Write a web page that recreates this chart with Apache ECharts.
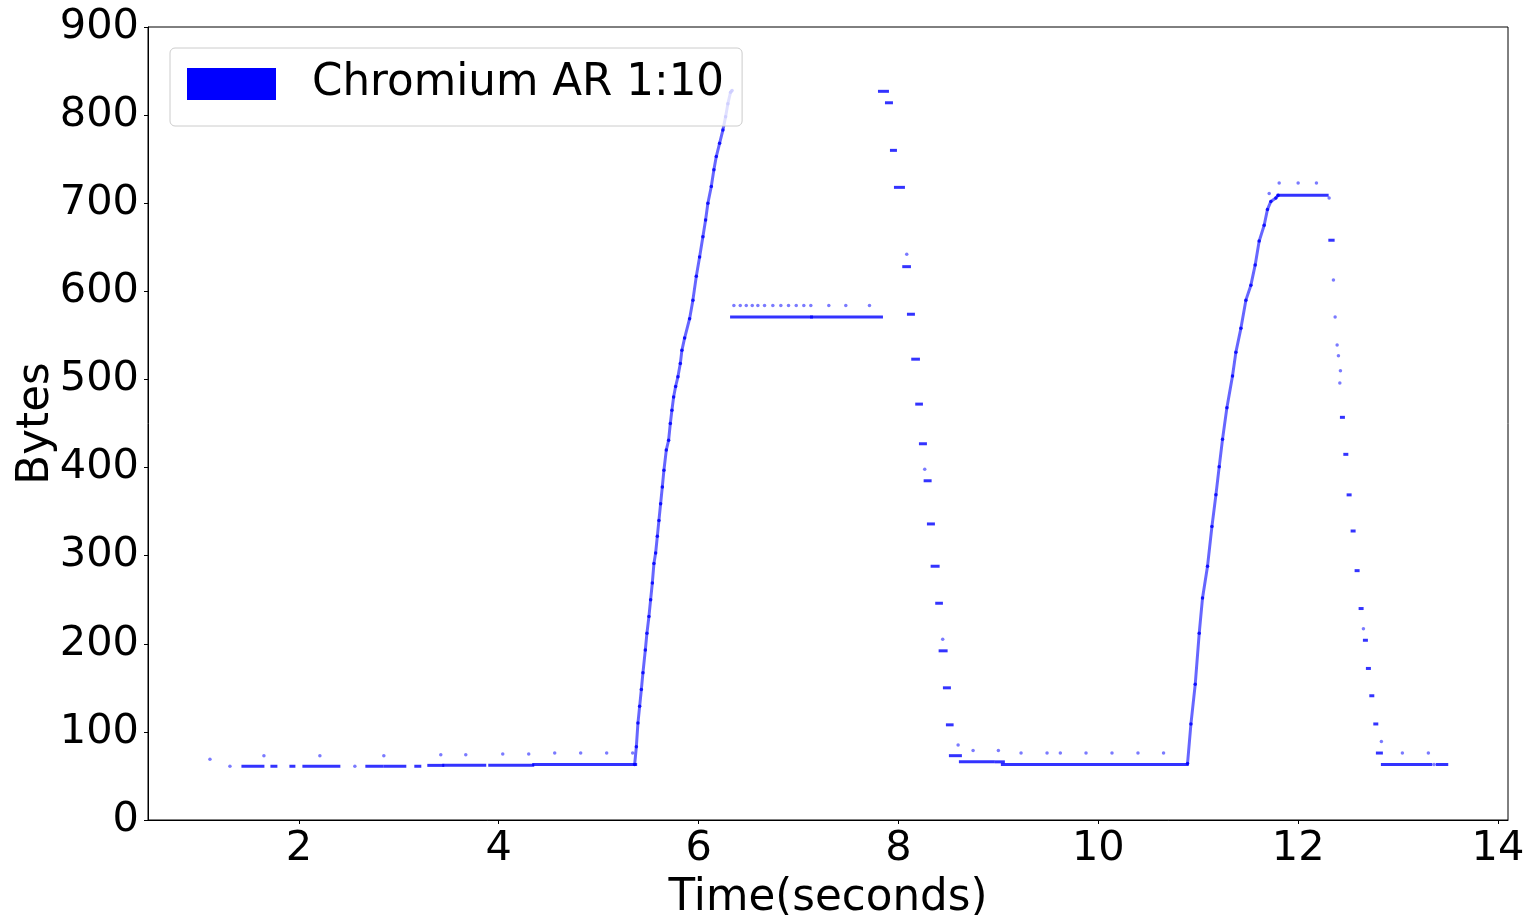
<!DOCTYPE html>
<html>
<head>
<meta charset="utf-8">
<script src="https://cdn.jsdelivr.net/npm/echarts@6/dist/echarts.min.js"></script>
<style>
  html, body { margin: 0; padding: 0; background: #fff; }
  #chart { width: 1529px; height: 915px; }
</style>
</head>
<body>
<div id="chart"></div>
<script>
// ---- Data (time in seconds, bytes) ----
const seriesName = 'Chromium AR 1:10';
const xTicks = [2, 4, 6, 8, 10, 12, 14];

// Steep rising phases (sampled points along the ramps)
const rampUp1 = [
  [5.36,63],[5.377,83],[5.393,110],[5.41,129],[5.427,148],[5.443,167],[5.467,193],[5.483,212],
  [5.503,231],[5.52,250],[5.537,269],[5.553,291],[5.57,303],[5.587,322],[5.603,340],[5.62,359],
  [5.637,378],[5.653,397],[5.677,420],[5.70,431],[5.717,450],[5.733,465],[5.75,480],[5.77,492],
  [5.793,503],[5.817,518],[5.833,533],[5.86,547],[5.91,569],[5.943,590],[5.977,617],[6.01,639],
  [6.043,662],[6.07,681],[6.093,700],[6.127,719],[6.153,738],[6.177,753],[6.21,768],[6.243,783],
  [6.27,798],[6.293,813],[6.32,826],[6.335,828]
];
const rampUp2 = [
  [10.893,64],[10.927,109],[10.97,154],[11.01,212],[11.043,252],[11.093,288],[11.137,333],
  [11.177,369],[11.21,401],[11.243,432],[11.287,468],[11.343,504],[11.377,531],[11.427,558],
  [11.477,590],[11.527,607],[11.57,630],[11.61,657],[11.66,675],[11.693,693],[11.727,702],
  [11.777,706],[11.80,709]
];

// Dense runs of packets at a constant size: [tStart, tEnd, bytes]
const runs = [
  [1.44,1.64,61],[1.73,1.77,61],[1.92,1.95,61],[2.05,2.40,61],[2.68,2.83,61],[2.86,3.06,61],
  [3.17,3.21,61],[3.30,3.44,62],[3.45,3.86,62],[3.91,4.34,62],[4.35,5.37,63],
  [6.33,7.13,571],[7.13,7.83,571],
  [7.81,7.89,827],[7.88,7.93,814],[7.93,7.97,760],[7.97,8.05,718],[8.053,8.11,628],
  [8.10,8.15,574],[8.143,8.20,523],[8.183,8.23,472],[8.22,8.27,427],[8.267,8.317,385],
  [8.30,8.35,336],[8.337,8.397,288],[8.383,8.43,246],[8.417,8.477,192],[8.46,8.51,150],
  [8.49,8.537,108],[8.52,8.62,73],[8.62,8.95,66],[8.98,9.05,66],[9.04,10.89,63],
  [11.80,12.29,709],
  [12.317,12.35,658],[12.433,12.453,457],[12.467,12.487,415],[12.50,12.52,369],
  [12.54,12.56,328],[12.58,12.60,283],[12.62,12.64,240],[12.663,12.683,204],
  [12.693,12.713,172],[12.727,12.747,141],[12.767,12.787,109],[12.793,12.833,76],
  [12.843,13.327,63],[13.393,13.487,63]
];

// Isolated packets: [t, bytes]
const singles = [
  [1.11,69],[1.31,61],[2.56,61],
  [1.65,73],[2.21,73],[2.85,73],[3.42,74],[3.67,74],[4.04,75],[4.30,75],
  [4.56,76],[4.82,76],[5.08,76],[5.34,76],
  [6.353,584],[6.417,584],[6.477,584],[6.537,584],[6.593,584],[6.66,584],[6.743,584],
  [6.823,584],[6.90,584],[6.977,584],[7.053,584],[7.123,584],[7.303,584],[7.473,584],[7.71,584],
  [8.083,642],[8.263,398],[8.443,205],[8.597,85],[8.747,79],[9.00,79],
  [9.227,76],[9.487,76],[9.62,76],[9.877,76],[10.137,76],[10.397,76],[10.653,76],
  [11.71,711],[11.81,723],[12.00,723],[12.183,723],[12.31,706],
  [12.353,613],[12.37,571],[12.39,539],[12.403,527],[12.423,510],[12.417,496],
  [12.653,217],[12.833,89],[13.043,76],[13.303,76],[13.36,63]
];

const BLUE = '#0000ff';
const FONT = 'DejaVu Sans';

const chart = echarts.init(document.getElementById('chart'), null, { renderer: 'canvas' });

const rampSeries = (data) => ({
  name: seriesName,
  type: 'line',
  data: data,
  showSymbol: true,
  showAllSymbol: true,
  symbol: 'circle',
  symbolSize: 3.5,
  itemStyle: { color: 'rgba(0,0,255,0.85)' },
  lineStyle: { color: 'rgba(0,0,255,0.6)', width: 3 },
  silent: true,
  z: 2
});

chart.setOption({
  animation: false,
  backgroundColor: '#ffffff',
  grid: {
    left: 148, right: 21, top: 27, bottom: 95,
    outerBoundsMode: 'none',
    containLabel: false,
    show: true, borderColor: '#000', borderWidth: 1, backgroundColor: 'transparent'
  },
  legend: {
    left: 170, top: 48,
    orient: 'vertical',
    padding: [10, 18, 16, 17],
    backgroundColor: 'rgba(255,255,255,0.8)',
    borderColor: '#cccccc', borderWidth: 1, borderRadius: 5,
    itemWidth: 89, itemHeight: 32,
    data: [{ name: seriesName, icon: 'rect', itemStyle: { color: BLUE, opacity: 1 } }],
    textStyle: { fontFamily: FONT, fontSize: 43.6, color: '#000', lineHeight: 40, padding: [12, 0, 0, 31] },
    selectedMode: false
  },
  xAxis: {
    type: 'value',
    min: 0.49, max: 14.1,
    name: 'Time(seconds)', nameLocation: 'middle', nameGap: 57,
    nameTextStyle: { fontFamily: FONT, fontSize: 43.6, color: '#000' },
    axisLine: { show: true, onZero: false, lineStyle: { color: '#000', width: 1 } },
    axisTick: { show: true, inside: false, length: 4, customValues: xTicks, lineStyle: { color: '#000' } },
    axisLabel: { customValues: xTicks, margin: 8, fontFamily: FONT, fontSize: 41.5, color: '#000' },
    splitLine: { show: false }
  },
  yAxis: {
    type: 'value',
    min: 0, max: 900, interval: 100,
    name: 'Bytes', nameLocation: 'middle', nameGap: 89, nameRotate: 90,
    nameMoveOverlap: false,
    nameTextStyle: { fontFamily: FONT, fontSize: 43.6, color: '#000' },
    axisLine: { show: true, onZero: false, lineStyle: { color: '#000', width: 1 } },
    axisTick: { show: true, inside: false, length: 4, lineStyle: { color: '#000' } },
    axisLabel: { margin: 9, fontFamily: FONT, fontSize: 41.5, color: '#000' },
    splitLine: { show: false }
  },
  series: [
    rampSeries(rampUp1),
    rampSeries(rampUp2),
    {
      name: seriesName,
      type: 'custom',
      data: runs,
      encode: { x: [0, 1], y: 2 },
      silent: true,
      z: 2,
      renderItem: function (params, api) {
        const p0 = api.coord([api.value(0), api.value(2)]);
        const p1 = api.coord([api.value(1), api.value(2)]);
        return {
          type: 'rect',
          shape: { x: p0[0] - 1.5, y: p0[1] - 1.5, width: (p1[0] - p0[0]) + 3, height: 3 },
          style: { fill: 'rgba(0,0,255,0.8)' }
        };
      }
    },
    {
      name: seriesName,
      type: 'scatter',
      data: singles,
      symbol: 'circle',
      symbolSize: 3.5,
      itemStyle: { color: 'rgba(0,0,255,0.65)' },
      silent: true,
      z: 2
    }
  ]
});
</script>
</body>
</html>
